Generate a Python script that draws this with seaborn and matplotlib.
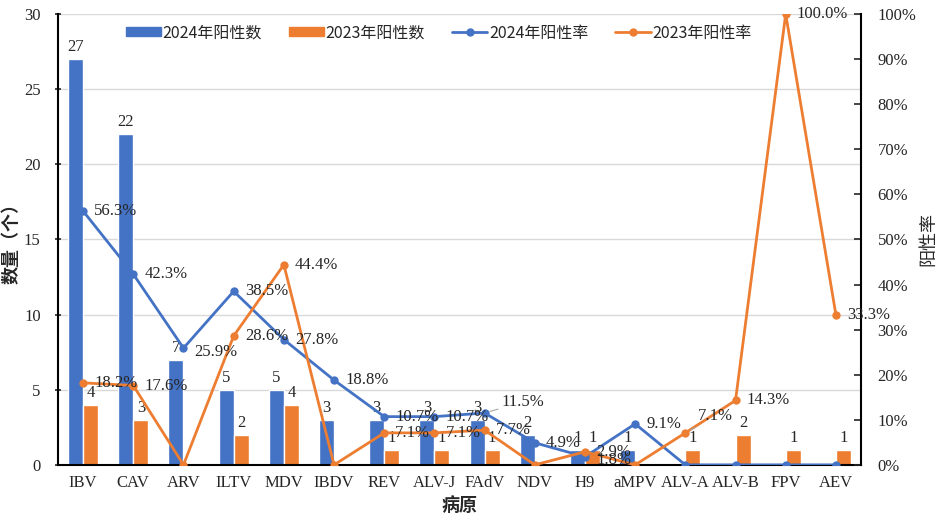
import numpy as np
import pandas as pd
import matplotlib
matplotlib.use("Agg")
import matplotlib.pyplot as plt
import seaborn as sns
from matplotlib.ticker import FuncFormatter

categories = ["IBV", "CAV", "ARV", "ILTV", "MDV", "IBDV", "REV", "ALV-J", "FAdV",
              "NDV", "H9", "aMPV", "ALV-A", "ALV-B", "FPV", "AEV"]
count_2024 = [27, 22, 7, 5, 5, 3, 3, 3, 3, 2, 1, 1, 0, 0, 0, 0]
count_2023 = [4, 3, 0, 2, 4, 0, 1, 1, 1, 0, 1, 0, 1, 2, 1, 1]
rate_2024 = [56.3, 42.3, 25.9, 38.5, 27.8, 18.8, 10.7, 10.7, 11.5, 4.9, 1.8, 9.1, 0, 0, 0, 0]
rate_2023 = [18.2, 17.6, 0, 28.6, 44.4, 0, 7.1, 7.1, 7.7, 0, 2.9, 0, 7.1, 14.3, 100.0, 33.3]

BLUE = "#4472C4"
ORANGE = "#ED7D31"
FONT = ["Liberation Serif", "Noto Sans CJK SC", "DejaVu Sans"]
CJK = ["Noto Sans CJK SC", "DejaVu Sans"]

sns.set_style("white")
plt.rcParams["font.family"] = FONT

# long table for the bars
bars = pd.DataFrame({
    "病原": categories * 2,
    "数量": count_2024 + count_2023,
    "系列": ["2024年阳性数"] * len(categories) + ["2023年阳性数"] * len(categories),
})

fig = plt.figure(figsize=(9.42, 5.2), dpi=100)
ax = fig.add_axes([0.0616, 0.106, 0.8524, 0.867])
sns.barplot(data=bars, x="病原", y="数量", hue="系列", order=categories,
            palette=[BLUE, ORANGE], width=0.6, saturation=1, ax=ax, legend=False)

ax.set_ylim(0, 30)
ax.set_yticks(range(0, 31, 5))
ax.set_xlim(-0.5, len(categories) - 0.5)
ax.yaxis.grid(True, color="#D9D9D9", lw=1)
ax.set_axisbelow(True)
for s in ["top", "right"]:
    ax.spines[s].set_visible(False)
ax.spines["left"].set_color("black")
ax.spines["left"].set_linewidth(1.5)
ax.spines["bottom"].set_color("black")
ax.spines["bottom"].set_linewidth(1.5)
ax.tick_params(axis="y", direction="inout", length=5, width=1.2, labelsize=12, pad=10)
ax.tick_params(axis="x", length=0, labelsize=12, pad=7)
ax.set_xticks(np.arange(-0.5, len(categories), 1), minor=True)
ax.tick_params(axis="x", which="minor", direction="in", length=5, width=1, color="black")
ax.set_xlabel("病原", fontsize=13, fontweight="bold", family=CJK, labelpad=4)
ax.set_ylabel("数量（个）", fontsize=13, fontweight="bold", family=CJK)
ax.yaxis.set_label_coords(-0.046, 0.5)

# count labels above the bars
for cont in ax.containers:
    vals = cont.datavalues
    labels = [f"{int(v)}" if v > 0 else "" for v in vals]
    ax.bar_label(cont, labels=labels, padding=3, fontsize=12, family=FONT)

ax2 = ax.twinx()
x = np.arange(len(categories))
r24 = np.array(rate_2024) / 100
r23 = np.array(rate_2023) / 100
sns.lineplot(x=x, y=r24, color=BLUE, lw=2, marker="o", markersize=6,
             markeredgewidth=0, ax=ax2, label="2024年阳性率", legend=False)
sns.lineplot(x=x, y=r23, color=ORANGE, lw=2, marker="o", markersize=6,
             markeredgewidth=0, ax=ax2, label="2023年阳性率", legend=False)
ax2.set_ylim(0, 1)
ax2.set_yticks(np.arange(0, 1.01, 0.1))
ax2.yaxis.set_major_formatter(FuncFormatter(lambda v, p: f"{v * 100:.0f}%"))
for s in ["top", "left"]:
    ax2.spines[s].set_visible(False)
ax2.spines["bottom"].set_visible(False)
ax2.spines["right"].set_color("black")
ax2.spines["right"].set_linewidth(1.5)
ax2.tick_params(axis="y", direction="in", length=5, width=1.2, labelsize=12, pad=12)
ax2.set_ylabel("阳性率", fontsize=13, family=CJK, rotation=90)
ax2.yaxis.set_label_coords(1.072, 0.5)
ax2.set_xlim(-0.5, len(categories) - 0.5)

# rate labels, mostly right of the points
special = {("b", 8): (12, 8), ("o", 12): (9, 12), ("b", 10): (8, -2),
           ("b", 2): (8, -3), ("o", 14): (8, 0)}
for key, rates in (("b", rate_2024), ("o", rate_2023)):
    for i, v in enumerate(rates):
        if v <= 0:
            continue
        dx, dy = special.get((key, i), (8, 0))
        kw = {}
        if (key, i) in (("b", 8), ("o", 12)):
            kw["arrowprops"] = dict(arrowstyle="-", color="#A6A6A6", lw=0.8,
                                    shrinkA=0, shrinkB=4)
        ax2.annotate(f"{v:.1f}%", (i, v / 100), xytext=(dx, dy),
                     textcoords="offset points", ha="left", va="center",
                     fontsize=12, family=FONT, **kw)

# legend
h1 = [plt.Rectangle((0, 0), 1, 1, color=BLUE), plt.Rectangle((0, 0), 1, 1, color=ORANGE)]
h2, l2 = ax2.get_legend_handles_labels()
ax2.legend(h1 + h2, ["2024年阳性数", "2023年阳性数"] + l2, loc="center",
           bbox_to_anchor=(0.474, 0.958), ncol=4, frameon=False,
           prop={"family": CJK, "size": 11.5}, handlelength=2.2, handleheight=0.5,
           columnspacing=1.7, handletextpad=0.1)

fig.savefig("out.png", dpi=100)
